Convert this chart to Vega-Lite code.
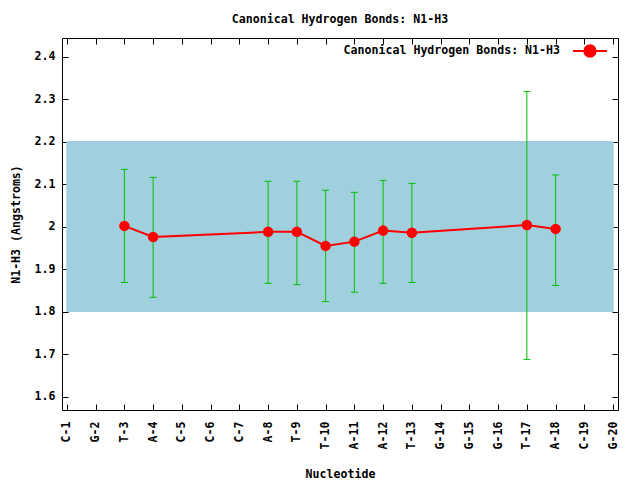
{
  "$schema": "https://vega.github.io/schema/vega-lite/v6.json",
  "autosize": {"type": "none"},
  "width": 556,
  "height": 372,
  "padding": {"left": 62, "top": 38, "right": 22, "bottom": 70},
  "background": "white",
  "title": {"text": "Canonical Hydrogen Bonds: N1-H3", "font": "DejaVu Sans Mono", "fontSize": 11.6, "fontWeight": "bold", "color": "black", "anchor": "middle", "offset": 12},
  "config": {
    "view": {"stroke": "black", "strokeWidth": 1},
    "axis": {"labelFont": "DejaVu Sans Mono", "labelFontSize": 11.6, "labelFontWeight": "bold", "labelColor": "black", "titleFont": "DejaVu Sans Mono", "titleFontSize": 11.6, "titleFontWeight": "bold", "titleColor": "black", "grid": false, "domain": false, "tickColor": "black", "tickSize": -6}
  },
  "data": {"values": [
    {"idx": 3, "nt": "T-3", "mean": 2.002, "lo": 1.869, "hi": 2.135},
    {"idx": 4, "nt": "A-4", "mean": 1.976, "lo": 1.834, "hi": 2.116},
    {"idx": 8, "nt": "A-8", "mean": 1.988, "lo": 1.867, "hi": 2.107},
    {"idx": 9, "nt": "T-9", "mean": 1.988, "lo": 1.864, "hi": 2.107},
    {"idx": 10, "nt": "T-10", "mean": 1.955, "lo": 1.824, "hi": 2.086},
    {"idx": 11, "nt": "A-11", "mean": 1.965, "lo": 1.846, "hi": 2.081},
    {"idx": 12, "nt": "A-12", "mean": 1.991, "lo": 1.867, "hi": 2.109},
    {"idx": 13, "nt": "T-13", "mean": 1.986, "lo": 1.869, "hi": 2.102},
    {"idx": 17, "nt": "T-17", "mean": 2.004, "lo": 1.688, "hi": 2.318},
    {"idx": 18, "nt": "A-18", "mean": 1.995, "lo": 1.862, "hi": 2.122}
  ]},
  "resolve": {"axis": {"x": "independent", "y": "independent"}},
  "layer": [
    {
      "mark": {"type": "rect", "color": "#a0cfde"},
      "encoding": {
        "x": {"datum": "C-1", "type": "nominal",
          "scale": {"type": "point", "domain": ["C-1","G-2","T-3","A-4","C-5","C-6","C-7","A-8","T-9","T-10","A-11","A-12","T-13","G-14","G-15","G-16","T-17","A-18","C-19","G-20"], "padding": 0.17},
          "axis": {"orient": "bottom", "title": "Nucleotide", "labelAngle": 270, "labelAlign": "right", "labelBaseline": "middle", "labelPadding": 17, "titlePadding": 20}},
        "x2": {"datum": "G-20"},
        "y": {"datum": 1.8, "type": "quantitative",
          "scale": {"domain": [1.569, 2.444], "nice": false, "zero": false},
          "axis": {"orient": "left", "title": "N1-H3 (Angstroms)", "values": [1.6,1.7,1.8,1.9,2.0,2.1,2.2,2.3,2.4], "format": ".1~f", "labelPadding": 13, "titlePadding": 13}},
        "y2": {"datum": 2.2}
      }
    },
    {
      "mark": {"type": "rule", "color": "#00c000", "strokeWidth": 1},
      "encoding": {
        "x": {"field": "nt", "type": "nominal", "axis": null},
        "y": {"field": "lo", "type": "quantitative", "axis": null},
        "y2": {"field": "hi"}
      }
    },
    {
      "mark": {"type": "tick", "color": "#00c000", "thickness": 1, "size": 7, "opacity": 1},
      "encoding": {
        "x": {"field": "nt", "type": "nominal", "axis": null},
        "y": {"field": "lo", "type": "quantitative", "axis": null}
      }
    },
    {
      "mark": {"type": "tick", "color": "#00c000", "thickness": 1, "size": 7, "opacity": 1},
      "encoding": {
        "x": {"field": "nt", "type": "nominal", "axis": null},
        "y": {"field": "hi", "type": "quantitative", "axis": null}
      }
    },
    {
      "mark": {"type": "line", "strokeWidth": 2},
      "encoding": {
        "x": {"field": "nt", "type": "nominal", "axis": {"orient": "top", "labels": false, "title": null}},
        "y": {"field": "mean", "type": "quantitative", "axis": {"orient": "right", "labels": false, "title": null, "values": [1.6,1.7,1.8,1.9,2.0,2.1,2.2,2.3,2.4]}},
        "order": {"field": "idx", "type": "quantitative"},
        "color": {"datum": "Canonical Hydrogen Bonds: N1-H3", "type": "nominal", "scale": {"range": ["#ff0000"]},
          "legend": {"title": null, "orient": "none", "legendX": 521, "legendY": 6, "padding": 0,
            "symbolType": "M-2.83,0L2.83,0M-0.95,0A0.95,0.95 0 1,0 0.95,0A0.95,0.95 0 1,0 -0.95,0Z",
            "symbolSize": 144, "symbolStrokeWidth": 2, "symbolFillColor": "#ff0000", "symbolStrokeColor": "#ff0000",
            "labelFont": "DejaVu Sans Mono", "labelFontSize": 11.6, "labelFontWeight": "bold", "labelColor": "black",
            "labelAlign": "right", "labelOffset": -37, "labelLimit": 400}}
      }
    },
    {
      "mark": {"type": "point", "filled": true, "size": 110, "opacity": 1, "shape": "circle"},
      "encoding": {
        "x": {"field": "nt", "type": "nominal", "axis": null},
        "y": {"field": "mean", "type": "quantitative", "axis": null},
        "color": {"datum": "Canonical Hydrogen Bonds: N1-H3", "type": "nominal"}
      }
    }
  ]
}
